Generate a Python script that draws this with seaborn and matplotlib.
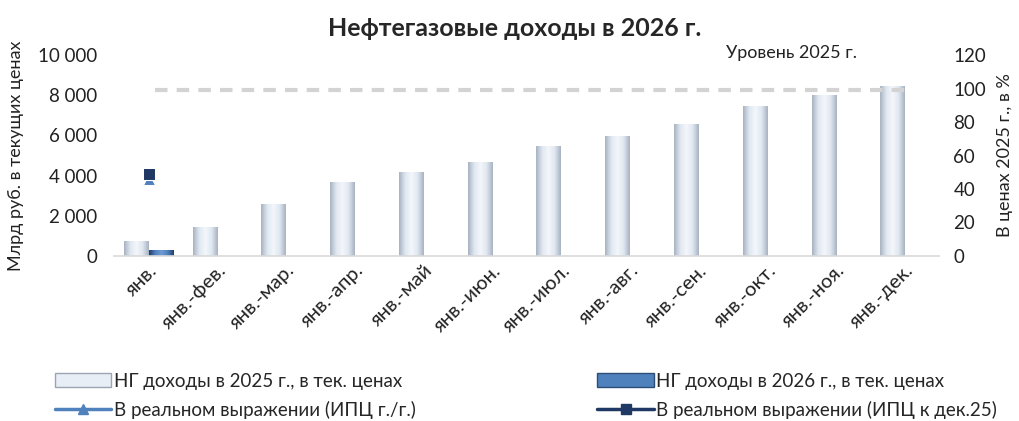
import numpy as np
import pandas as pd
import matplotlib
matplotlib.use("Agg")
import matplotlib.pyplot as plt
import seaborn as sns
from matplotlib.lines import Line2D
from matplotlib.patches import Patch
from matplotlib.ticker import FuncFormatter

# ---- data ----
periods = ["янв.", "янв.-фев.", "янв.-мар.", "янв.-апр.", "янв.-май", "янв.-июн.",
           "янв.-июл.", "янв.-авг.", "янв.-сен.", "янв.-окт.", "янв.-ноя.", "янв.-дек."]
ng_2025 = [750, 1440, 2590, 3680, 4180, 4680, 5470, 5970, 6570, 7460, 8010, 8460]
ng_2026 = [300] + [np.nan] * 11
real_yoy = [46] + [np.nan] * 11
real_dec25 = [49] + [np.nan] * 11
level_2025 = 99

s1 = "НГ доходы в 2025 г., в тек. ценах"
s2 = "НГ доходы в 2026 г., в тек. ценах"
s3 = "В реальном выражении (ИПЦ г./г.)"
s4 = "В реальном выражении (ИПЦ к дек.25)"

sns.set_theme(style="white")
plt.rcParams['font.family'] = ['Lato', 'DejaVu Sans']

df = pd.DataFrame({
    "period": periods * 2,
    "value": ng_2025 + ng_2026,
    "series": [s1] * 12 + [s2] * 12,
})
dl = pd.DataFrame({
    "period": periods * 2,
    "value": real_yoy + real_dec25,
    "series": [s3] * 12 + [s4] * 12,
})

fig = plt.figure(figsize=(10.2, 4.21), dpi=100)
ax = fig.add_axes([0.112, 0.392, 0.809, 0.477])

sns.barplot(data=df, x="period", y="value", hue="series", order=periods,
            palette=["#e4ecf5", "#4f81bd"], width=0.72, ax=ax, legend=False,
            edgecolor="none", linewidth=0)

# gradient fill for bars
def shade(patch, cols):
    x0, y0 = patch.get_x(), patch.get_y()
    w, h = patch.get_width(), patch.get_height()
    if not np.isfinite(h) or h == 0:
        return
    cmap = matplotlib.colors.LinearSegmentedColormap.from_list("g", cols)
    grad = np.abs(np.linspace(-1, 1, 64))[None, :]
    im = ax.imshow(grad, cmap=cmap, aspect="auto", extent=[x0, x0 + w, y0, y0 + h],
                   vmin=0, vmax=1, zorder=2)
    im.set_clip_path(patch)

n = len(periods)
for i, p in enumerate(list(ax.patches)):
    if i < n:
        shade(p, ["#f4f7fb", "#dfe7f1", "#a9b4c2"])
    else:
        shade(p, ["#6f9bd6", "#4f81bd", "#1f3f6b"])

ax.set_xlim(-0.5, n - 0.5)
ax.set_ylim(0, 10000)
ax.set_yticks(np.arange(0, 10001, 2000))
ax.yaxis.set_major_formatter(FuncFormatter(lambda v, _: f"{int(v):,}".replace(",", " ")))
ax.set_xlabel("")
ax.set_ylabel("Млрд руб. в текущих ценах", fontsize=13, color="#222222", labelpad=10)
ax.tick_params(axis="y", labelsize=13.5, colors="#222222", length=0, pad=12)
ax.tick_params(axis="x", labelsize=14.5, colors="#222222", length=0, pad=4)
plt.setp(ax.get_xticklabels(), rotation=45, ha="right", rotation_mode="anchor")
for sp in ["top", "left", "right"]:
    ax.spines[sp].set_visible(False)
ax.spines["bottom"].set_color("#d9d9d9")
ax.spines["bottom"].set_linewidth(1.2)

ax2 = ax.twinx()
ax2.set_ylim(0, 120)
ax2.set_yticks(np.arange(0, 121, 20))
ax2.tick_params(axis="y", labelsize=13.5, colors="#222222", length=0, pad=10)
for sp in ax2.spines.values():
    sp.set_visible(False)
ax2.hlines(level_2025, 0.1, 11.0, colors="#d3d3d3", linestyles=(0, (3, 2.2)), linewidth=3, zorder=1)
ax2.text(9.35, 121.5, "Уровень 2025 г.", fontsize=13, ha="center", va="center", color="#222222")

sns.lineplot(data=dl, x="period", y="value", hue="series", style="series",
             palette=["#4f81bd", "#1f3864"], markers=["^", "s"], dashes=False,
             markersize=9, ax=ax2, legend=False, sort=False)
ax2.set_xlabel("")
ax2.set_ylabel("В ценах 2025 г., в %", fontsize=13, color="#222222", labelpad=8)
ax2.set_xlim(-0.5, n - 0.5)

fig.suptitle("Нефтегазовые доходы в 2026 г.", x=0.505, y=0.96, fontsize=18, fontweight="bold")

h1 = Patch(facecolor="#e8eef6", edgecolor="#9aa5b3")
h2 = Patch(facecolor="#4f81bd", edgecolor="#2c4d75")
h3 = Line2D([], [], color="#4f81bd", marker="^", lw=2.5, markersize=7)
h4 = Line2D([], [], color="#1f3864", marker="s", lw=2.5, markersize=7)
fig.legend([h1, h3, h2, h4], [s1, s3, s2, s4], loc="lower left",
           bbox_to_anchor=(0.037, -0.035), ncol=2, frameon=False, fontsize=13.5,
           columnspacing=9.7, handlelength=3.0, handletextpad=0.15, labelspacing=0.6)

fig.savefig("out.png", dpi=100)
